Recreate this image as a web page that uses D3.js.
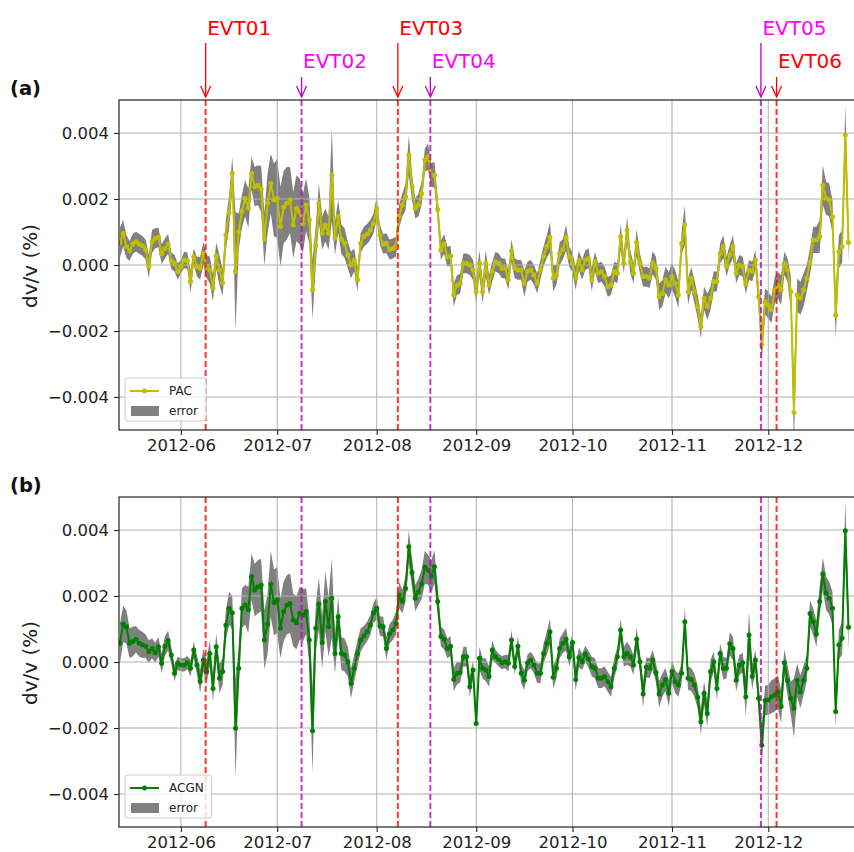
<!DOCTYPE html>
<html>
<head>
<meta charset="utf-8">
<script src="https://cdn.jsdelivr.net/npm/d3@7"></script>
<style>
  html, body { margin: 0; padding: 0; background: #fff; }
  svg { display: block; font-family: "DejaVu Sans", sans-serif; }
</style>
</head>
<body>
<script>
/* ==== data: one value per day from startDate, dv/v in units of 1e-3 % ==== */
var startDate = "2012-05-13";
var UNIT = 1e-3;

var pacValues = [
  0.68, 0.96, 0.56, 0.43, 0.64, 0.71, 0.64, 0.58, 0.47, -0.05,
  0.71, 0.81, 0.84, 0.33, 0.5, 0.64, 0.13, 0.05, -0.2, -0.05,
  0.15, 0.13, -0.5, 0.25, -0.05, -0.1, 0.35, -0.05, -0.15, -0.7,
  0.28, -0.15, -0.54, 0.91, 1.59, 2.78, -0.2, 1.01, 1.62, 2.02,
  1.72, 2.78, 2.37, 2.42, 2.3, 0.78, 1.87, 2.47, 1.97, 2.02,
  1.16, 1.75, 1.87, 1.97, 1.21, 1.72, 1.62, 1.26, 1.82, 1.36,
  -0.76, 0.58, 1.87, 0.96, 1.21, 0.96, 2.73, 0.81, 1.48, 0.78,
  0.66, 0.30, 0, 0.15, -0.45,
  0.66, 0.86, 0.94, 1.06, 1.26, 1.72, 0.91, 0.64, 0.66, 0.47,
  0.5, 0.56, 1.48, 1.82, 2.07, 3.33, 2.37, 1.72, 1.82, 2.17,
  3.18, 3.28, 2.73, 2.73, 1.69, 0.45, 0.64, 0.25, 0.28, -0.91,
  -0.61, -0.56, 0.05, 0.05, 0, -0.15, -0.81, 0.05, -0.81, 0.05,
  -0.61, -0.2, 0.1, 0.05, -0.1, -0.1, -0.45, 0.43, -0.1, -0.15,
  -0.15, -0.56, -0.2, -0.15, -0.3, -0.56, -0.15, 0.27, 0.56, 0.84,
  -0.4, -0.3, 0.35, 0.47, 0.83, 0.25, 0.07, -0.4, 0.13, -0.15,
  0.15, 0.2, -0.45, 0.1, -0.25,
  -0.2, -0.35, -0.66, -0.61, -0.2, -0.25, 0.86, 0.05, 1.06, 0.1,
  -0.25, 0.68, 0.05, -0.35, -0.35, -0.4, 0.07, -0.1, -0.96, -0.86,
  -0.45, -0.61, -0.35, -0.56, -0.91, 0.66, 1.21, -0.81, -0.4, -0.81,
  -1.26, -1.87, -1.01, -1.26, -1.01, -0.5, -0.5, 0.35, 0.56, -0.05,
  0.30, 0.56, -0.25, 0, -0.05, -0.58, -0.15, -0.2, 0.15, -0.96,
  -2.42, -1.11, -1.21, -1.36, -0.76, -0.61, -0.76, 0.05, -0.15, -0.81,
  -4.47, -0.91, -1.01, -0.76, -0.4, 0.1, 0.76, 0.76, 0.86, 2.42,
  2.02, 1.97, 1.46, -1.52, 0.4, 0.56, 3.94, 0.68
];

var pacErrors = [
  0.45, 0.4, 0.35, 0.3, 0.3, 0.3, 0.3, 0.3, 0.3, 0.35,
  0.35, 0.3, 0.3, 0.3, 0.3, 0.3, 0.25, 0.25, 0.25, 0.2,
  0.25, 0.25, 0.35, 0.25, 0.3, 0.35, 0.35, 0.35, 0.4, 0.4,
  0.4, 0.45, 0.4, 0.45, 0.5, 0.5, 1.8, 0.55, 0.5, 0.55,
  0.6, 0.5, 0.6, 0.6, 0.7, 0.8, 0.9, 0.9, 1.1, 1.2,
  1.2, 1.1, 1.1, 1.0, 1.0, 1.0, 1.0, 0.9, 0.8, 0.7,
  0.9, 0.6, 0.6, 0.5, 0.5, 0.5, 1.4, 0.5, 0.5, 0.45,
  0.45, 0.4, 0.4, 0.35, 0.35,
  0.3, 0.3, 0.3, 0.3, 0.3, 0.35, 0.3, 0.3, 0.3, 0.3,
  0.3, 0.3, 0.35, 0.35, 0.4, 0.6, 0.4, 0.3, 0.35, 0.35,
  0.35, 0.4, 0.35, 0.4, 0.35, 0.3, 0.3, 0.3, 0.3, 0.35,
  0.3, 0.3, 0.3, 0.3, 0.3, 0.3, 0.35, 0.4, 0.35, 0.4,
  0.3, 0.3, 0.3, 0.3, 0.3, 0.3, 0.3, 0.35, 0.3, 0.3,
  0.3, 0.4, 0.3, 0.3, 0.3, 0.3, 0.3, 0.3, 0.35, 0.45,
  0.4, 0.3, 0.35, 0.3, 0.4, 0.3, 0.3, 0.35, 0.3, 0.3,
  0.3, 0.3, 0.35, 0.3, 0.3,
  0.3, 0.3, 0.3, 0.3, 0.3, 0.3, 0.4, 0.3, 0.4, 0.35,
  0.3, 0.4, 0.3, 0.3, 0.3, 0.3, 0.35, 0.35, 0.4, 0.4,
  0.4, 0.4, 0.4, 0.4, 0.4, 0.35, 0.6, 0.4, 0.35, 0.35,
  0.35, 0.35, 0.35, 0.4, 0.35, 0.3, 0.3, 0.3, 0.35, 0.3,
  0.3, 0.35, 0.3, 0.3, 0.3, 0.3, 0.3, 0.3, 0.3, 0.4,
  0.5, 0.4, 0.4, 0.4, 0.4, 0.4, 0.45, 0.35, 0.35, 0.5,
  1.0, 0.5, 0.5, 0.5, 0.4, 0.4, 0.4, 0.4, 0.5, 0.6,
  0.5, 0.5, 0.5, 0.7, 0.5, 0.5, 0.9, 0.6
];

var acgnValues = [
  0.57, 1.15, 1.07, 0.57, 0.62, 0.69, 0.57, 0.52, 0.48, 0.31,
  0.41, 0.28, 0.46, -0.04, 0.48, 0.65, 0.21, -0.34, -0.04, -0.09,
  -0.09, -0.02, -0.19, 0.36, -0.09, -0.58, 0.06, -0.29, 0.26, -0.80,
  0.46, -0.49, -0.29, 1.12, 1.63, 1.49, -2.01, -0.19, 1.63, 1.73,
  1.58, 2.59, 2.18, 2.28, 2.33, 0.67, 1.15, 2.36, 1.80, 1.88,
  1.02, 1.53, 1.73, 1.78, 1.27, 1.19, 1.47, 1.42, 1.53, 0.67,
  -2.08, 1.02, 1.76, 0.59, 1.83, 1.07, 1.93, 0.26, 1.37, 0.26,
  0.21, 0.01, -0.65, -0.19, 0.26,
  0.67, 0.79, 0.92, 1.12, 1.49, 1.63, 1.09, 1.07, 0.41, 0.85,
  0.97, 1.17, 2.03, 1.83, 2.23, 3.49, 2.71, 1.93, 2.13, 2.36,
  2.87, 2.79, 2.59, 2.89, 1.83, 0.77, 0.69, 0.41, 0.48, -0.53,
  -0.34, -0.32, 0.16, 0.16, -0.75, -0.24, -1.86, 0.11, -0.19, -0.24,
  -0.44, 0.36, 0.16, 0.06, -0.02, 0.01, -0.04, 0.67, -0.14, 0.48,
  -0.34, -0.55, -0.02, 0.06, -0.09, -0.34, -0.34, 0.26, 0.57, 0.92,
  -0.46, -0.19, 0.41, 0.57, 0.69, 0.16, 0.59, -0.53, 0.14, 0.01,
  0.24, 0.08, -0.14, -0.19, -0.49,
  -0.49, -0.44, -0.60, -0.75, -0.19, 0.16, 0.97, 0.16, 0.26, 0.16,
  -0.09, 0.69, 0.01, -0.97, -0.16, -0.19, 0.06, -0.32, -0.97, -0.70,
  -0.53, -0.95, -0.29, -0.60, -0.70, -0.34, 1.22, -0.49, -0.53, -0.70,
  -1.07, -1.81, -0.95, -1.56, -0.29, 0.01, -0.80, 0.26, -0.19, -0.19,
  0.55, 0.41, -0.55, -0.09, -0.02, -1.05, 0.82, -0.44, 0.06, -1.10,
  -2.52, -1.17, -1.15, -1.05, -1.00, -0.90, -1.35, -0.02, -0.55, -1.10,
  -1.40, -0.55, -0.90, -0.55, -0.19, 1.47, 1.22, 0.85, 1.83, 2.67,
  2.08, 1.93, 1.63, -1.50, 0.52, 0.72, 3.98, 1.05
];

var acgnErrors = [
  0.6, 0.55, 0.5, 0.45, 0.45, 0.4, 0.4, 0.4, 0.35, 0.35,
  0.3, 0.3, 0.3, 0.3, 0.3, 0.3, 0.25, 0.25, 0.2, 0.2,
  0.2, 0.2, 0.25, 0.25, 0.3, 0.35, 0.35, 0.35, 0.4, 0.4,
  0.4, 0.45, 0.4, 0.45, 0.5, 0.5, 1.5, 0.6, 0.6, 0.6,
  0.7, 0.7, 0.8, 0.8, 0.8, 0.9, 0.9, 1.0, 1.0, 1.0,
  0.9, 0.9, 0.9, 0.9, 0.8, 0.8, 0.8, 0.8, 0.7, 0.7,
  1.3, 0.7, 0.8, 0.8, 0.9, 0.9, 1.2, 0.6, 0.6, 0.5,
  0.5, 0.45, 0.45, 0.4, 0.4,
  0.35, 0.3, 0.3, 0.3, 0.3, 0.35, 0.3, 0.3, 0.35, 0.3,
  0.3, 0.35, 0.4, 0.35, 0.4, 0.5, 0.45, 0.4, 0.4, 0.45,
  0.5, 0.45, 0.5, 0.5, 0.4, 0.3, 0.3, 0.3, 0.3, 0.35,
  0.35, 0.3, 0.3, 0.3, 0.3, 0.3, 0.3, 0.35, 0.3, 0.35,
  0.3, 0.3, 0.2, 0.2, 0.2, 0.2, 0.25, 0.3, 0.25, 0.3,
  0.3, 0.3, 0.25, 0.25, 0.25, 0.3, 0.3, 0.3, 0.35, 0.4,
  0.35, 0.3, 0.3, 0.3, 0.35, 0.3, 0.3, 0.35, 0.3, 0.25,
  0.25, 0.25, 0.3, 0.3, 0.3,
  0.3, 0.3, 0.3, 0.3, 0.3, 0.3, 0.35, 0.3, 0.35, 0.3,
  0.3, 0.35, 0.3, 0.4, 0.3, 0.3, 0.3, 0.3, 0.4, 0.35,
  0.35, 0.4, 0.35, 0.35, 0.35, 0.3, 0.45, 0.35, 0.35, 0.35,
  0.35, 0.4, 0.35, 0.4, 0.35, 0.3, 0.35, 0.3, 0.35, 0.3,
  0.35, 0.35, 0.35, 0.3, 0.3, 0.6, 0.7, 0.4, 0.3, 0.4,
  0.6, 0.45, 0.45, 0.5, 0.5, 0.5, 0.5, 0.4, 0.45, 0.5,
  0.9, 0.5, 0.5, 0.45, 0.4, 0.4, 0.4, 0.4, 0.45, 0.5,
  0.5, 0.5, 0.5, 0.45, 0.45, 0.5, 0.9, 0.7
];

var eventNames = ["EVT01", "EVT02", "EVT03", "EVT04", "EVT05", "EVT06"];
var eventDates = ["2012-06-08T17:00Z", "2012-07-08T14:00Z", "2012-08-07T14:00Z",
                  "2012-08-17T17:00Z", "2012-11-28T17:00Z", "2012-12-03T14:00Z"];

var monthTicks = ["2012-06-01", "2012-07-01", "2012-08-01", "2012-09-01",
                  "2012-10-01", "2012-11-01", "2012-12-01"];
var yTicks = [-0.004, -0.002, 0, 0.002, 0.004];

/* ==== styles ==== */
// text colour, arrow/line colour and label row for every event
var eventStyle = {
  EVT01: { text: "#ff0000", line: "#ff0000", row: 0 },
  EVT02: { text: "#ff00ff", line: "#bf00bf", row: 1 },
  EVT03: { text: "#ff0000", line: "#ff0000", row: 0 },
  EVT04: { text: "#ff00ff", line: "#bf00bf", row: 1 },
  EVT05: { text: "#ff00ff", line: "#bf00bf", row: 0 },
  EVT06: { text: "#ff0000", line: "#ff0000", row: 1 }
};

var W = 854, H = 852;
var left = 119, plotW = 745, plotH = 330;

var svg = d3.select("body").append("svg")
  .attr("width", W)
  .attr("height", H);

var x = d3.scaleUtc()
  .domain([new Date("2012-05-12T17:00Z"), new Date("2012-12-27T17:00Z")])
  .range([left, 854]);

function buildSeries(values, errors) {
  var t0 = new Date(startDate + "T00:00Z");
  return values.map(function (v, i) {
    return { date: d3.utcDay.offset(t0, i), v: v * UNIT, e: errors[i] * UNIT };
  });
}

var panels = [
  { top: 100, tag: "(a)", name: "PAC", color: "#bfbf00", data: buildSeries(pacValues, pacErrors) },
  { top: 497, tag: "(b)", name: "ACGN", color: "#008000", data: buildSeries(acgnValues, acgnErrors) }
];

panels.forEach(function (p, pi) {
  var top = p.top, bottom = top + plotH;
  var y = d3.scaleLinear().domain([-0.005, 0.005]).range([bottom, top]);
  var g = svg.append("g");

  var clipId = "clip" + pi;
  svg.append("clipPath").attr("id", clipId)
    .append("rect").attr("x", left).attr("y", top).attr("width", plotW).attr("height", plotH);

  var inner = g.append("g").attr("clip-path", "url(#" + clipId + ")");

  // error band (below the grid, like matplotlib patches)
  var band = d3.area()
    .x(function (d) { return x(d.date); })
    .y0(function (d) { return y(d.v - d.e); })
    .y1(function (d) { return y(d.v + d.e); });
  inner.append("path")
    .datum(p.data)
    .attr("d", band)
    .attr("fill", "#808080");

  // grid
  inner.selectAll(".gx").data(monthTicks).enter().append("line")
    .attr("x1", function (d) { return x(new Date(d + "T00:00Z")); })
    .attr("x2", function (d) { return x(new Date(d + "T00:00Z")); })
    .attr("y1", top).attr("y2", bottom)
    .attr("stroke", "#b0b0b0").attr("stroke-width", 1);
  inner.selectAll(".gy").data(yTicks).enter().append("line")
    .attr("x1", left).attr("x2", left + plotW)
    .attr("y1", function (d) { return y(d); })
    .attr("y2", function (d) { return y(d); })
    .attr("stroke", "#b0b0b0").attr("stroke-width", 1);

  // series line with markers
  var line = d3.line()
    .x(function (d) { return x(d.date); })
    .y(function (d) { return y(d.v); });
  inner.append("path")
    .datum(p.data)
    .attr("d", line)
    .attr("fill", "none")
    .attr("stroke", p.color)
    .attr("stroke-width", 2)
    .attr("stroke-linejoin", "round");
  inner.selectAll(".pt").data(p.data).enter().append("circle")
    .attr("cx", function (d) { return x(d.date); })
    .attr("cy", function (d) { return y(d.v); })
    .attr("r", 2.5)
    .attr("fill", p.color);

  // event lines
  inner.selectAll(".evt").data(eventNames).enter().append("line")
    .attr("x1", function (d, i) { return x(new Date(eventDates[i])); })
    .attr("x2", function (d, i) { return x(new Date(eventDates[i])); })
    .attr("y1", top).attr("y2", bottom)
    .attr("stroke", function (d) { return eventStyle[d].line; })
    .attr("stroke-opacity", 0.8)
    .attr("stroke-width", 2)
    .attr("stroke-dasharray", "6,3");

  // frame
  g.append("rect")
    .attr("x", left).attr("y", top)
    .attr("width", plotW).attr("height", plotH)
    .attr("fill", "none").attr("stroke", "#222").attr("stroke-width", 1.2);

  // axes
  var yAxis = g.append("g")
    .attr("transform", "translate(" + left + ",0)")
    .call(d3.axisLeft(y).tickValues(yTicks).tickFormat(d3.format(".3f")).tickSize(5).tickPadding(5));
  var xAxis = g.append("g")
    .attr("transform", "translate(0," + bottom + ")")
    .call(d3.axisBottom(x)
      .tickValues(monthTicks.map(function (d) { return new Date(d + "T00:00Z"); }))
      .tickFormat(d3.utcFormat("%Y-%m")).tickSize(5).tickPadding(4));
  [yAxis, xAxis].forEach(function (a) {
    a.select(".domain").remove();
    a.attr("font-family", "DejaVu Sans, sans-serif").attr("font-size", 16.5);
    a.selectAll(".tick line").attr("stroke", "#222").attr("stroke-width", 1.1);
    a.selectAll(".tick text").attr("fill", "#222");
  });

  // y label
  g.append("text")
    .attr("transform", "translate(37," + (top + plotH / 2 + 1) + ") rotate(-90)")
    .attr("text-anchor", "middle")
    .attr("font-size", 20)
    .attr("fill", "#222")
    .text("dv/v (%)");

  // panel tag
  g.append("text")
    .attr("x", 10).attr("y", top - 5)
    .attr("font-size", 19.5)
    .attr("font-weight", "bold")
    .attr("fill", "#111")
    .text(p.tag);

  // legend
  var lg = g.append("g");
  var box = lg.append("rect")
    .attr("x", 125).attr("y", top + 278)
    .attr("height", 43).attr("rx", 3)
    .attr("fill", "#fff").attr("fill-opacity", 0.8)
    .attr("stroke", "#cccccc").attr("stroke-width", 1);
  lg.append("line")
    .attr("x1", 130).attr("x2", 159)
    .attr("y1", top + 291).attr("y2", top + 291)
    .attr("stroke", p.color).attr("stroke-width", 2);
  lg.append("circle")
    .attr("cx", 144.5).attr("cy", top + 291).attr("r", 2.5)
    .attr("fill", p.color);
  lg.append("rect")
    .attr("x", 131).attr("y", top + 306)
    .attr("width", 28).attr("height", 10)
    .attr("fill", "#808080");
  var t1 = lg.append("text")
    .attr("x", 169).attr("y", top + 291).attr("dy", "0.35em")
    .attr("font-size", 12).attr("fill", "#222")
    .text(p.name);
  var t2 = lg.append("text")
    .attr("x", 169).attr("y", top + 311).attr("dy", "0.35em")
    .attr("font-size", 12).attr("fill", "#222")
    .text("error");
  var wText = Math.max(t1.node().getComputedTextLength(), t2.node().getComputedTextLength());
  box.attr("width", 169 + wText + 8 - 125);
});

// event annotations above panel (a)
var ann = svg.append("g");
eventNames.forEach(function (name, i) {
  var st = eventStyle[name];
  var ex = x(new Date(eventDates[i]));
  var baseY = st.row === 0 ? 35 : 68;
  var startY = st.row === 0 ? 43 : 77;
  var tipY = 97;
  ann.append("text")
    .attr("x", ex + 1.5).attr("y", baseY)
    .attr("font-size", 20)
    .attr("fill", st.text)
    .text(name);
  ann.append("line")
    .attr("x1", ex).attr("x2", ex)
    .attr("y1", startY).attr("y2", tipY)
    .attr("stroke", st.line).attr("stroke-width", 1.3);
  ann.append("path")
    .attr("d", "M" + (ex - 5) + "," + (tipY - 11) + "L" + ex + "," + tipY + "L" + (ex + 5) + "," + (tipY - 11))
    .attr("fill", "none")
    .attr("stroke", st.line).attr("stroke-width", 1.3);
});
</script>
</body>
</html>
